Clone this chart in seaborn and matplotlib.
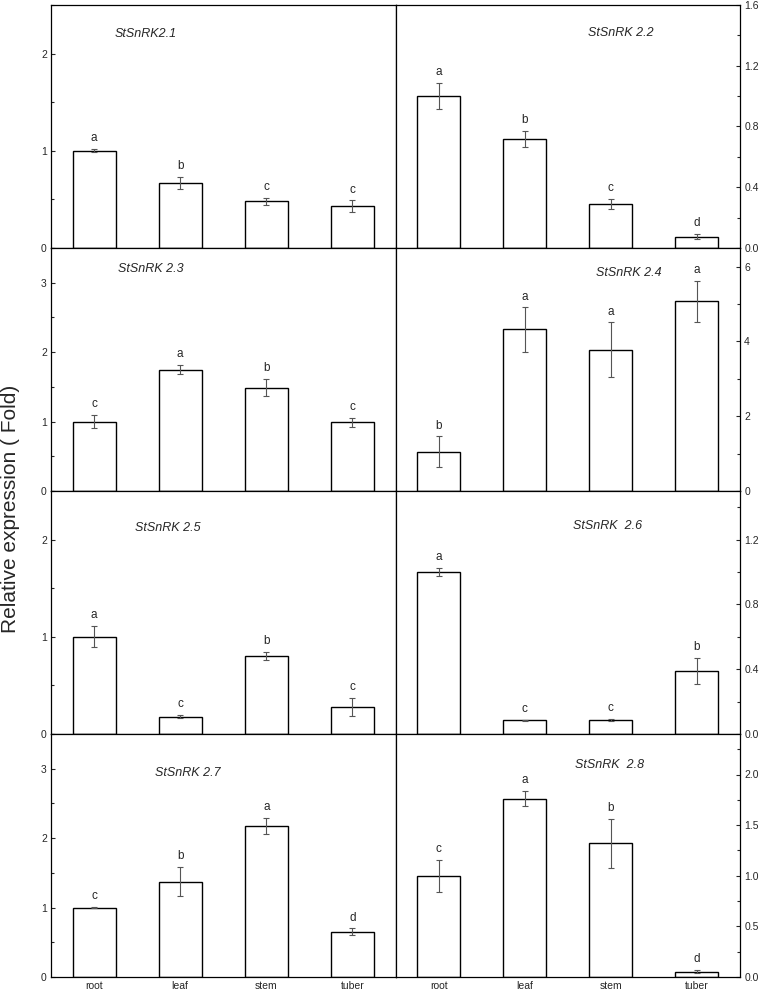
import matplotlib
matplotlib.use("Agg")
import matplotlib.pyplot as plt
import pandas as pd
import seaborn as sns
from matplotlib.ticker import MultipleLocator, FormatStrFormatter

# tissues on the x axis
tissues = ["root", "leaf", "stem", "tuber"]

# relative expression (mean), error and significance letters per gene
snrk21_mean = [1.00, 0.67, 0.48, 0.43]
snrk21_err = [0.017, 0.064, 0.038, 0.060]
snrk21_sig = ["a", "b", "c", "c"]

snrk22_mean = [1.00, 0.72, 0.29, 0.075]
snrk22_err = [0.088, 0.052, 0.033, 0.015]
snrk22_sig = ["a", "b", "c", "d"]

snrk23_mean = [1.00, 1.75, 1.49, 0.99]
snrk23_err = [0.09, 0.07, 0.124, 0.062]
snrk23_sig = ["c", "a", "b", "c"]

snrk24_mean = [1.05, 4.32, 3.78, 5.08]
snrk24_err = [0.41, 0.59, 0.73, 0.55]
snrk24_sig = ["b", "a", "a", "a"]

snrk25_mean = [1.00, 0.18, 0.80, 0.28]
snrk25_err = [0.11, 0.012, 0.043, 0.095]
snrk25_sig = ["a", "c", "b", "c"]

snrk26_mean = [1.00, 0.084, 0.088, 0.39]
snrk26_err = [0.025, 0.004, 0.005, 0.08]
snrk26_sig = ["a", "c", "c", "b"]

snrk27_mean = [1.00, 1.37, 2.18, 0.65]
snrk27_err = [0.01, 0.21, 0.115, 0.05]
snrk27_sig = ["c", "b", "a", "d"]

snrk28_mean = [1.00, 1.76, 1.32, 0.053]
snrk28_err = [0.16, 0.076, 0.24, 0.013]
snrk28_sig = ["c", "a", "b", "d"]

gene_names = ["StSnRK2.1", "StSnRK 2.2", "StSnRK 2.3", "StSnRK 2.4",
              "StSnRK 2.5", "StSnRK  2.6", "StSnRK 2.7", "StSnRK  2.8"]

panels = [
    (snrk21_mean, snrk21_err, snrk21_sig),
    (snrk22_mean, snrk22_err, snrk22_sig),
    (snrk23_mean, snrk23_err, snrk23_sig),
    (snrk24_mean, snrk24_err, snrk24_sig),
    (snrk25_mean, snrk25_err, snrk25_sig),
    (snrk26_mean, snrk26_err, snrk26_sig),
    (snrk27_mean, snrk27_err, snrk27_sig),
    (snrk28_mean, snrk28_err, snrk28_sig),
]

# axis settings per panel: (ymax, major step, minor step, format)
axis_cfg = [
    (2.5, 1, 0.5, "%d"), (1.6, 0.4, 0.2, "%.1f"),
    (3.5, 1, 0.5, "%d"), (6.5, 2, 1, "%d"),
    (2.5, 1, 0.5, "%d"), (1.5, 0.4, 0.2, "%.1f"),
    (3.5, 1, 0.5, "%d"), (2.4, 0.5, 0.25, "%.1f"),
]
title_xy = [(0.274, 0.88), (0.655, 0.885), (0.29, 0.913), (0.676, 0.897),
            (0.338, 0.848), (0.617, 0.857), (0.398, 0.84), (0.621, 0.872)]

sns.set_style("ticks")
plt.rcParams['font.family'] = ['Liberation Sans', 'DejaVu Sans']

fig, axes = plt.subplots(4, 2, figsize=(7.65, 9.92), dpi=100)
fig.subplots_adjust(left=51/765, right=740/765, top=1-5/992,
                    bottom=1-977/992, hspace=0, wspace=0)

for k, ax in enumerate(axes.flat):
    means, errs, sig = panels[k]
    df = pd.DataFrame({"tissue": tissues, "expr": means})
    sns.barplot(data=df, x="tissue", y="expr", ax=ax, color="white",
                edgecolor="black", linewidth=1, width=0.5, saturation=1,
                errorbar=None)
    ax.errorbar(range(len(tissues)), means, yerr=errs, fmt='none',
                ecolor='#555555', elinewidth=0.8, capsize=2, capthick=0.8)
    for i, (m, e, s) in enumerate(zip(means, errs, sig)):
        ax.annotate(s, (i, m + e), xytext=(0, 3.5), textcoords='offset points',
                    ha='center', va='bottom', fontsize=8.5)
    ymax, major, minor, fmt = axis_cfg[k]
    ax.set_ylim(0, ymax)
    ax.set_xlim(-0.5, 3.5)
    ax.yaxis.set_major_locator(MultipleLocator(major))
    ax.yaxis.set_minor_locator(MultipleLocator(minor))
    ax.yaxis.set_major_formatter(FormatStrFormatter(fmt))
    ax.set_xlabel("")
    ax.set_ylabel("")
    tx, ty = title_xy[k]
    ax.text(tx, ty, gene_names[k], transform=ax.transAxes, ha='center',
            va='center', fontsize=9, style='italic')
    for sp in ax.spines.values():
        sp.set_visible(True)
        sp.set_linewidth(0.9)
        sp.set_color('black')
    ax.tick_params(axis='x', direction='in', length=3, width=0.8,
                   labelsize=7.5, pad=3, bottom=True, top=False)
    ax.tick_params(axis='y', which='major', direction='in', length=3,
                   width=0.8, labelsize=7.5, pad=3)
    ax.tick_params(axis='y', which='minor', direction='in', length=2,
                   width=0.8)
    if k % 2 == 1:
        ax.yaxis.tick_right()
        ax.tick_params(axis='y', which='both', left=False, right=True)
    else:
        ax.tick_params(axis='y', which='both', left=True, right=False)
    if k < 6:
        ax.tick_params(axis='x', labelbottom=False)

fig.text(1.5 / 765, 0.487, "Relative expression ( Fold)", rotation=90,
         ha='left', va='center', fontsize=15)

fig.savefig("out.png", dpi=100)
